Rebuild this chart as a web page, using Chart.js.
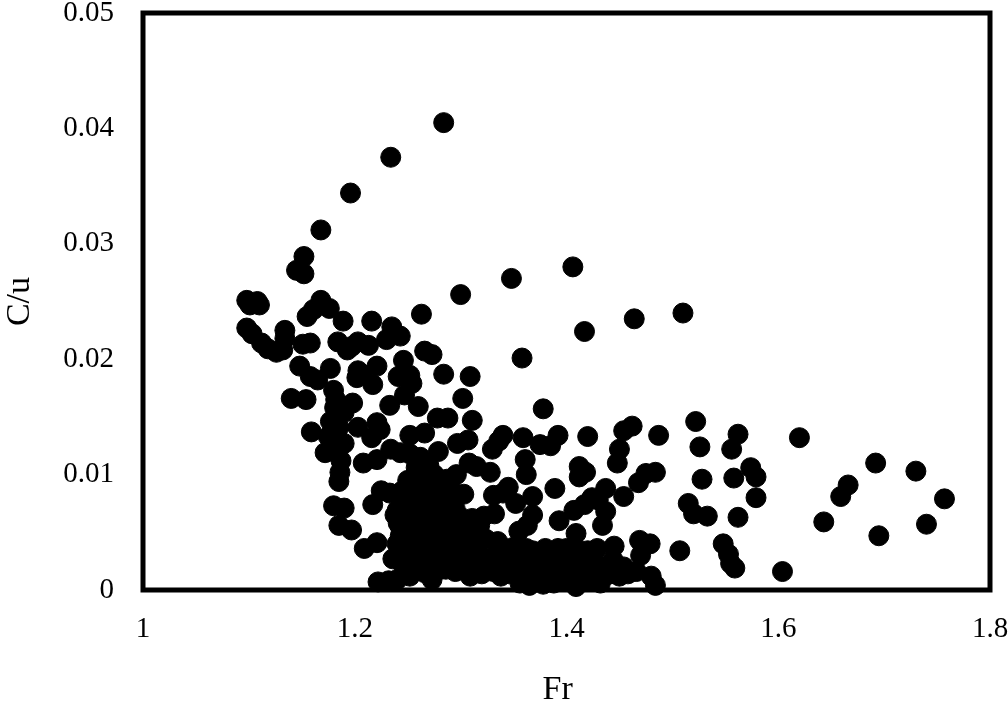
<!DOCTYPE html>
<html>
<head>
<meta charset="utf-8">
<script src="https://cdn.jsdelivr.net/npm/chart.js@4/dist/chart.umd.min.js"></script>
<style>
  html, body { margin: 0; padding: 0; background: #fff; }
  canvas { display: block; }
</style>
</head>
<body>
<canvas id="chart" width="1008" height="704"></canvas>
<script>
const xTickLabels = ['1', '1.2', '1.4', '1.6', '1.8'];
const yTickLabels = ['0', '0.01', '0.02', '0.03', '0.04', '0.05'];

// [Fr, C/u], grouped by region
const upperArm = [
  [1.284,.0405],[1.234,.0375],[1.196,.0344],[1.168,.0312],[1.152,.0289],[1.145,.0277],[1.152,.0274],
  [1.300,.0256],[1.348,.0270],[1.406,.0280],[1.417,.0224],[1.464,.0235],[1.510,.0240],[1.358,.0201]
];
const leftBand = [
  [1.098,.0251],[1.108,.0250],[1.110,.0247],[1.101,.0247],[1.098,.0227],[1.103,.0222],[1.112,.0214],
  [1.118,.0209],[1.126,.0206],[1.132,.0208],[1.134,.0225],[1.134,.0218],[1.151,.0213],[1.158,.0214],
  [1.155,.0237],[1.161,.0243],[1.168,.0251],[1.176,.0244],[1.189,.0233],[1.184,.0215],[1.193,.0208],
  [1.203,.0215],[1.197,.0211],[1.216,.0233],[1.213,.0212],[1.230,.0217],[1.235,.0228],[1.243,.0220],
  [1.263,.0239],[1.266,.0207],[1.273,.0204],[1.284,.0187],[1.309,.0185],[1.246,.0199],[1.148,.0194],
  [1.158,.0185],[1.165,.0182],[1.177,.0192],[1.180,.0173],[1.182,.0165],[1.203,.0190],[1.202,.0184],
  [1.221,.0194],[1.217,.0178],[1.207,.0187],[1.140,.0166],[1.154,.0165],[1.159,.0137],[1.198,.0162],
  [1.181,.0158],[1.190,.0154],[1.302,.0166],[1.241,.0185],[1.252,.0186],[1.254,.0179],[1.247,.0169],
  [1.233,.0160],[1.260,.0159]
];
const middleBand = [
  [1.177,.0146],[1.185,.0141],[1.175,.0133],[1.190,.0127],[1.172,.0119],[1.180,.0120],[1.187,.0112],
  [1.186,.0102],[1.185,.0094],[1.203,.0141],[1.221,.0145],[1.216,.0132],[1.224,.0139],[1.234,.0122],
  [1.208,.0110],[1.221,.0113],[1.243,.0119],[1.252,.0134],[1.266,.0136],[1.278,.0149],[1.288,.0149],
  [1.311,.0147],[1.297,.0127],[1.307,.0130],[1.279,.0120],[1.330,.0122],[1.252,.0118],[1.262,.0115],
  [1.258,.0106],[1.270,.0108],
  [1.340,.0134],[1.336,.0129],[1.308,.0110],[1.315,.0107],[1.328,.0102],[1.296,.0100],[1.287,.0096],
  [1.331,.0082],[1.340,.0084],[1.345,.0089],[1.352,.0075],[1.368,.0081],[1.389,.0088],[1.368,.0065],
  [1.393,.0060],[1.363,.0056],[1.355,.0051],[1.409,.0049],[1.407,.0069],[1.417,.0074],[1.424,.0080],
  [1.430,.0078],[1.437,.0068],[1.434,.0056],[1.429,.0036],[1.445,.0038],[1.454,.0020],[1.409,.0003]
];
const rightTail = [
  [1.378,.0157],[1.522,.0146],[1.620,.0132],[1.562,.0135],[1.526,.0124],[1.487,.0134],[1.462,.0142],
  [1.454,.0138],[1.450,.0122],[1.448,.0110],[1.420,.0133],[1.392,.0134],[1.385,.0125],[1.375,.0126],
  [1.359,.0132],[1.361,.0113],[1.362,.0100],[1.412,.0107],[1.412,.0098],[1.418,.0102],[1.484,.0102],
  [1.475,.0101],[1.468,.0093],[1.454,.0081],[1.437,.0088],[1.528,.0096],[1.558,.0097],[1.574,.0106],
  [1.579,.0098],[1.579,.0080],[1.562,.0063],[1.533,.0064],[1.520,.0066],[1.515,.0075],[1.556,.0122],
  [1.692,.0110],[1.730,.0103],[1.757,.0079],[1.740,.0057],[1.695,.0047],[1.666,.0091],[1.659,.0081],
  [1.643,.0059],[1.604,.0016],[1.507,.0034],[1.548,.0040],[1.553,.0031],[1.555,.0023],[1.559,.0019],
  [1.479,.0040],[1.469,.0043],[1.470,.0030],[1.466,.0016],[1.480,.0012],[1.484,.0004]
];
const lowerLeft = [
  [1.180,.0073],[1.190,.0071],[1.185,.0056],[1.197,.0052],[1.209,.0036],[1.221,.0041],[1.217,.0074],
  [1.225,.0086],[1.233,.0084],[1.222,.0007],[1.232,.0008],[1.240,.0009],[1.236,.0027],[1.240,.0040],
  [1.243,.0055],[1.238,.0065],[1.246,.0074],[1.241,.0082],[1.241,.0058],[1.243,.0047],[1.242,.0036],
  [1.244,.0024],[1.240,.0069],[1.245,.0086]
];
const denseCore = [
  [1.250,.0095],[1.258,.0088],[1.266,.0098],[1.275,.0100],[1.283,.0092],[1.292,.0086],[1.303,.0083],
  [1.250,.0078],[1.259,.0072],[1.268,.0080],[1.277,.0084],[1.286,.0076],[1.295,.0070],[1.302,.0062],
  [1.249,.0060],[1.257,.0054],[1.266,.0064],[1.275,.0066],[1.284,.0058],[1.293,.0052],[1.303,.0048],
  [1.248,.0044],[1.256,.0036],[1.265,.0046],[1.274,.0048],[1.283,.0040],[1.292,.0034],[1.301,.0032],
  [1.250,.0028],[1.259,.0020],[1.268,.0030],[1.277,.0024],[1.286,.0022],[1.295,.0016],[1.303,.0020],
  [1.252,.0012],[1.262,.0017],[1.273,.0009],[1.281,.0018],[1.311,.0062],[1.318,.0056],[1.322,.0064],
  [1.332,.0066],[1.314,.0048],[1.324,.0044],[1.335,.0042],[1.312,.0034],[1.322,.0028],[1.333,.0030],
  [1.342,.0036],[1.310,.0016],[1.320,.0014],[1.331,.0016],[1.341,.0020],[1.349,.0028],[1.352,.0014],
  [1.356,.0006],[1.362,.0022],[1.368,.0034],[1.373,.0016],[1.378,.0005],[1.382,.0028],[1.388,.0014],
  [1.392,.0036],[1.397,.0024],[1.400,.0008],[1.405,.0032],[1.410,.0016],[1.416,.0026],[1.420,.0010],
  [1.427,.0024],[1.432,.0006],[1.438,.0018],[1.444,.0026],[1.362,.0036],[1.376,.0030],[1.388,.0006],
  [1.254,.0091],[1.262,.0083],[1.271,.0090],[1.280,.0079],[1.254,.0067],[1.263,.0059],[1.272,.0072],
  [1.280,.0062],[1.289,.0064],[1.253,.0050],[1.261,.0041],[1.270,.0055],[1.279,.0051],[1.288,.0046],
  [1.297,.0042],[1.253,.0034],[1.263,.0025],[1.272,.0037],[1.281,.0031],[1.290,.0027],[1.299,.0024],
  [1.256,.0017],[1.266,.0015],[1.276,.0016],[1.286,.0018],[1.297,.0017],[1.309,.0012],[1.316,.0021],
  [1.327,.0021],[1.338,.0012],[1.346,.0014],[1.358,.0012],[1.367,.0011],[1.384,.0020],[1.395,.0014],
  [1.403,.0022],[1.413,.0009],[1.424,.0015],[1.350,.0037],[1.358,.0034],[1.380,.0036],[1.400,.0036],
  [1.412,.0034],[1.420,.0034],[1.346,.0026],[1.372,.0026],[1.392,.0022],[1.418,.0020],[1.428,.0014],
  [1.436,.0012],[1.442,.0014],[1.450,.0012],[1.458,.0014],[1.365,.0004]
];

const points = [...upperArm, ...leftBand, ...middleBand, ...rightTail, ...lowerLeft, ...denseCore]
  .map(p => ({ x: p[0], y: p[1] }));

const fontFamily = '"Liberation Serif", "Times New Roman", serif';
const xTitle = 'Fr';

// frame around the plot, the four sides are the same
const framePlugin = {
  id: 'frame',
  beforeDatasetsDraw(chart) {
    const { ctx, chartArea: a } = chart;
    ctx.save();
    ctx.strokeStyle = '#000';
    ctx.lineWidth = 5;
    ctx.strokeRect(a.left, a.top, a.right - a.left, a.bottom - a.top);
    ctx.restore();
  },
  // the x title sits a bit left of the axis centre, scale title can't do that
  afterDraw(chart) {
    const { ctx, chartArea: a, scales } = chart;
    ctx.save();
    ctx.fillStyle = '#000';
    ctx.font = '34px ' + fontFamily;
    ctx.textAlign = 'center';
    ctx.textBaseline = 'middle';
    ctx.fillText(xTitle, scales.x.getPixelForValue(1.3917), a.bottom + 100);
    ctx.restore();
  }
};

new Chart(document.getElementById('chart').getContext('2d'), {
  type: 'scatter',
  data: {
    datasets: [{
      label: 'C/u',
      data: points,
      backgroundColor: '#000',
      borderColor: '#000',
      pointRadius: 10,
      pointHoverRadius: 10,
      clip: false
    }]
  },
  plugins: [framePlugin],
  options: {
    responsive: false,
    animation: false,
    layout: { padding: { top: 13, right: 18, left: 0, bottom: 0 } },
    plugins: { legend: { display: false }, tooltip: { enabled: false } },
    scales: {
      x: {
        type: 'linear',
        min: 1,
        max: 1.8,
        afterFit(scale) {
          scale.height = 114;
          scale.paddingLeft = 0;
          scale.paddingRight = 0;
        },
        grid: { display: false },
        border: { display: false },
        ticks: {
          stepSize: 0.2,
          maxRotation: 0,
          padding: 14,
          color: '#000',
          font: { family: fontFamily, size: 29 },
          callback: (v, i) => xTickLabels[i]
        }
      },
      y: {
        type: 'linear',
        min: 0,
        max: 0.05,
        afterFit(scale) {
          scale.width = 143;
          scale.paddingTop = 0;
          scale.paddingBottom = 0;
        },
        grid: { display: false },
        border: { display: false },
        ticks: {
          stepSize: 0.01,
          padding: 21,
          color: '#000',
          font: { family: fontFamily, size: 29 },
          callback: (v, i) => yTickLabels[i]
        },
        title: {
          display: true,
          text: 'C/u',
          color: '#000',
          font: { family: fontFamily, size: 34 },
          padding: { top: 0, bottom: 0 }
        }
      }
    }
  }
});
</script>
</body>
</html>
